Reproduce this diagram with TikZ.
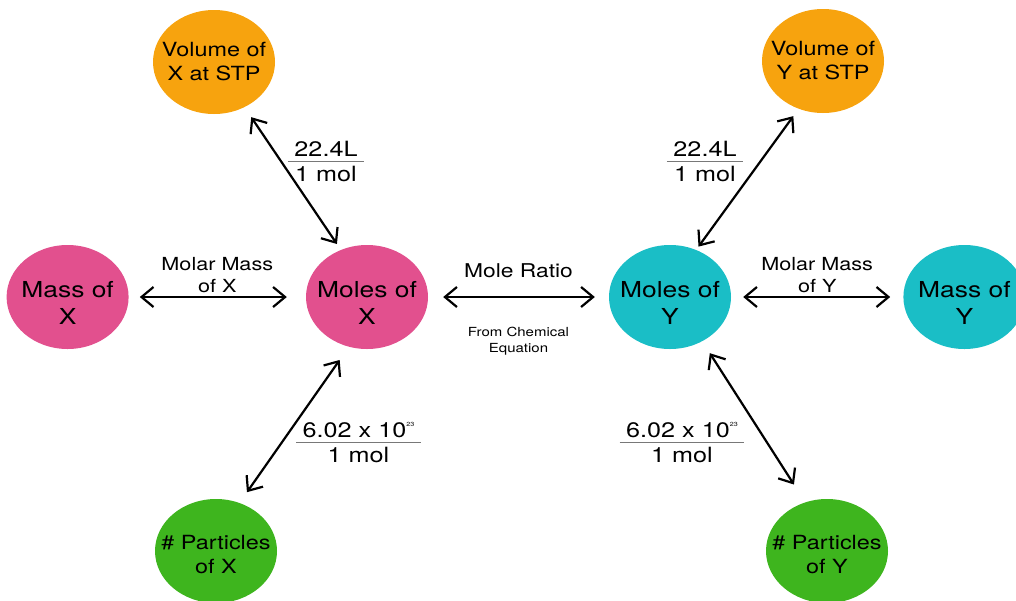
\documentclass[tikz,border=0pt]{standalone}
\usepackage{fontspec}
\setmainfont{TeX Gyre Heros}[FakeStretch=1.2]
\usepackage{colortbl}
\usetikzlibrary{arrows.meta,positioning,shapes.geometric}
\definecolor{stporange}{RGB}{247,163,14}
\definecolor{molpink}{RGB}{226,80,142}
\definecolor{molteal}{RGB}{26,190,198}
\definecolor{partgreen}{RGB}{62,181,30}
\definecolor{fracgray}{RGB}{120,120,120}
\newcommand{\ratio}[2]{\arrayrulecolor{fracgray}\setlength{\arrayrulewidth}{1pt}%
  \begin{tabular}[t]{@{\hspace{6.5pt}}c@{\hspace{6.5pt}}}#1\\[-2pt]\hline\rule{0pt}{19pt}#2\end{tabular}}
\newcommand{\avog}{6.02 x 10\raisebox{10.5pt}{\fontsize{6}{6}\selectfont 23}}

\begin{document}
\begin{tikzpicture}[x=1pt,y=-1pt,
  blob/.style={ellipse,inner xsep=-20pt,inner ysep=0pt,minimum width=122pt,minimum height=104pt,align=center},
  big/.style={font=\fontsize{22}{27}\selectfont,execute at begin node={\rule{0pt}{54pt}}},
  small/.style={font=\fontsize{19.5}{24}\selectfont},
  lower/.style={execute at begin node={\rule{0pt}{46pt}}},
  link/.style={<->,>={Straight Barb[length=12pt,width=20pt]},line width=2.2pt},
  frac/.style={anchor=base,inner sep=0pt,font=\fontsize{21}{24}\selectfont},
  note/.style={align=center,font=\fontsize{18}{22}\selectfont}
]
  \useasboundingbox (0,0) rectangle (1016,600);
  \fill[white] (0,0) rectangle (1016,600);

  % left side: substance X
  \node[blob,small,fill=stporange] (volx) at (214,62) {Volume of\\X at STP};
  \node[blob,big,fill=molpink] (molx) at (367,297) {Moles of\\X};
  \node[blob,big,fill=molpink,left=177pt of molx] (massx) {Mass of\\X};
  \node[blob,small,lower,fill=partgreen] (partx) at (216,551) {\# Particles\\of X};

  % right side: substance Y
  \node[blob,big,fill=molteal] (moly) at (670,297) {Moles of\\Y};
  \node[blob,big,fill=molteal,right=172pt of moly] (massy) {Mass of\\Y};
  \node[blob,small,fill=stporange] (voly) at (823,61) {Volume of\\Y at STP};
  \node[blob,small,lower,fill=partgreen] (party) at (827,551) {\# Particles\\of Y};

  % conversion factors
  \node[frac] (fvx) at (326,156) {\ratio{22.4L}{1 mol}};
  \node[frac] (fvy) at (705,156) {\ratio{22.4L}{1 mol}};
  \node[frac] (fpx) at (358.5,437) {\ratio{\avog}{1 mol}};
  \node[frac] (fpy) at (682,437) {\ratio{\avog}{1 mol}};

  \draw[link,shorten <=11pt,shorten >=19pt] (massx) -- node[note,above]{Molar Mass\\of X} (molx);
  \draw[link,shorten <=15pt,shorten >=14pt] (molx) --
    node[above=15pt,font=\fontsize{19}{23}\selectfont]{Mole Ratio}
    node[below=26pt,align=center,font=\fontsize{12.5}{16}\selectfont]{From Chemical\\Equation} (moly);
  \draw[link,shorten <=12pt,shorten >=13pt] (moly) -- node[note,above]{Molar Mass\\of Y} (massy);
  \draw[link,shorten <=12pt,shorten >=7pt] (volx.-56) -- (molx.119);
  \draw[link,shorten <=9pt,shorten >=4pt] (voly.-117) -- (moly.61);
  \draw[link,shorten <=16pt,shorten >=13pt] (molx.-110) -- (partx.64);
  \draw[link,shorten <=14pt,shorten >=21pt] (moly.-54) -- (party.114);
\end{tikzpicture}
\end{document}
